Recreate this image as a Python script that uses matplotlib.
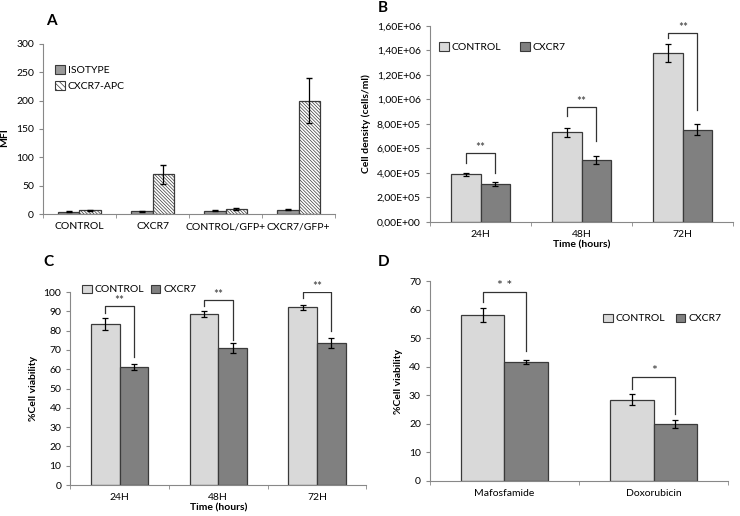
import matplotlib.pyplot as plt
import numpy as np
from matplotlib.patches import Patch
from matplotlib.ticker import FuncFormatter

plt.rcParams['font.family'] = ['Lato', 'DejaVu Sans']
plt.rcParams['hatch.linewidth'] = 0.5
plt.rcParams['hatch.color'] = '#333333'

# Panel A: MFI
a_groups = ['CONTROL', 'CXCR7', 'CONTROL/GFP+', 'CXCR7/GFP+']
a_isotype = [4, 5, 6, 8]
a_isotype_err = [0.8, 0.8, 1.0, 1.0]
a_apc = [7, 70, 9, 200]
a_apc_err = [1.0, 17, 1.0, 40]

# Panel B: cell density
b_groups = ['24H', '48H', '72H']
b_control = [3.9e5, 7.3e5, 1.38e6]
b_control_err = [0.12e5, 0.35e5, 0.75e5]
b_cxcr7 = [3.1e5, 5.05e5, 7.5e5]
b_cxcr7_err = [0.15e5, 0.35e5, 0.45e5]
# bracket: top, left leg end, right leg end
b_brackets = [(5.6e5, 4.8e5, 4.0e5), (9.35e5, 8.6e5, 6.6e5), (1.54e6, 1.5e6, 9.1e5)]
b_stars = ['**', '**', '**']

# Panel C: viability
c_groups = ['24H', '48H', '72H']
c_control = [83.5, 88.5, 92]
c_control_err = [3.0, 1.5, 1.5]
c_cxcr7 = [61, 71, 73.5]
c_cxcr7_err = [1.5, 2.5, 2.5]
c_brackets = [(92.6, 89, 66.5), (96, 92.6, 75.3), (99.8, 97, 79.6)]
c_stars = ['**', '**', '**']

# Panel D: drug viability
d_groups = ['Mafosfamide', 'Doxorubicin']
d_control = [58.2, 28.5]
d_control_err = [2.5, 2.0]
d_cxcr7 = [41.7, 20]
d_cxcr7_err = [0.6, 1.5]
d_brackets = [(66.2, 62.7, 45.7), (36.6, 32.3, 23.6)]
d_stars = ['* *', '*']

light = '#d9d9d9'
dark = '#808080'
edge = '#3a3a3a'
hatch = '\\' * 10
w = 0.29
fs = 7.5

fig = plt.figure(figsize=(7.4, 5.16), dpi=100)


def style_axes(ax, n):
    for s in ['top', 'right']:
        ax.spines[s].set_visible(False)
    for s in ['left', 'bottom']:
        ax.spines[s].set_color('#888888')
        ax.spines[s].set_linewidth(0.8)
    ax.set_xlim(-0.5, n - 0.5)
    ax.set_xticks(range(n))
    ax.set_xticks(np.arange(-0.5, n, 1.0), minor=True)
    ax.tick_params(axis='x', which='major', length=0, labelsize=fs, pad=6)
    ax.tick_params(axis='x', which='minor', length=3, color='#888888', direction='out')
    ax.tick_params(axis='y', length=3, color='#888888', labelsize=fs)


def pair_bars(ax, groups, ctrl, ctrl_err, cx, cx_err):
    x = np.arange(len(groups))
    ax.bar(x - w / 2, ctrl, w, color=light, edgecolor=edge, linewidth=0.9,
           yerr=ctrl_err, error_kw=dict(ecolor='black', elinewidth=0.9, capsize=2.5, capthick=0.9))
    ax.bar(x + w / 2, cx, w, color=dark, edgecolor=edge, linewidth=0.9,
           yerr=cx_err, error_kw=dict(ecolor='black', elinewidth=0.9, capsize=2.5, capthick=0.9))
    ax.set_xticklabels(groups)
    return x


def brackets(ax, x, br, stars, fsz=8.5):
    for xi, (top, l, r), st in zip(x, br, stars):
        ax.plot([xi - w / 2, xi - w / 2, xi + w / 2, xi + w / 2], [l, top, top, r],
                color='#333333', lw=0.9)
        ax.text(xi, top, st, ha='center', va='bottom', fontsize=fsz, color='#333333')


def legend_pair(ax, **kw):
    handles = [Patch(facecolor=light, edgecolor=edge, linewidth=0.8, label='CONTROL'),
               Patch(facecolor=dark, edgecolor=edge, linewidth=0.8, label='CXCR7')]
    ax.legend(handles=handles, frameon=False, fontsize=fs, handlelength=0.9,
              handleheight=0.9, handletextpad=0.3, **kw)


# A
axA = fig.add_axes([0.058, 0.585, 0.395, 0.330])
xa = np.arange(len(a_groups))
axA.bar(xa - w / 2, a_isotype, w, color='#9a9a9a', edgecolor=edge, linewidth=0.9,
        yerr=a_isotype_err, error_kw=dict(ecolor='black', elinewidth=0.9, capsize=2.5))
axA.bar(xa + w / 2, a_apc, w, color='white', edgecolor=edge, linewidth=0.9, hatch=hatch,
        yerr=a_apc_err, error_kw=dict(ecolor='black', elinewidth=0.9, capsize=2.5))
style_axes(axA, len(a_groups))
axA.set_xticklabels(a_groups)
axA.set_ylim(0, 300)
axA.set_yticks(range(0, 301, 50))
axA.set_ylabel('MFI', fontsize=fs, fontweight='bold')
axA.yaxis.set_label_coords(-0.115, 0.45)
axA.legend(handles=[Patch(facecolor='#9a9a9a', edgecolor=edge, linewidth=0.8, label='ISOTYPE'),
                    Patch(facecolor='white', edgecolor=edge, linewidth=0.8, hatch='\\' * 6, label='CXCR7-APC')],
           loc='upper left', bbox_to_anchor=(0.01, 0.93), frameon=False, fontsize=fs,
           handlelength=0.9, handleheight=0.9, handletextpad=0.3, labelspacing=0.6)
fig.text(0.062, 0.96, 'A', fontsize=11, fontweight='bold', va='center')

# B
axB = fig.add_axes([0.581, 0.570, 0.41, 0.380])
xb = pair_bars(axB, b_groups, b_control, b_control_err, b_cxcr7, b_cxcr7_err)
style_axes(axB, len(b_groups))
axB.set_ylim(0, 1.6e6)
axB.set_yticks(np.arange(0, 1.61e6, 2e5))
axB.yaxis.set_major_formatter(FuncFormatter(lambda v, p: ('%.2E' % v).replace('.', ',')))
brackets(axB, xb, b_brackets, b_stars)
axB.set_ylabel('Cell density (cells/ml)', fontsize=fs, fontweight='bold')
axB.set_xlabel('Time (hours)', fontsize=fs, fontweight='bold', labelpad=1)
legend_pair(axB, loc='upper left', bbox_to_anchor=(0.0, 0.965), ncol=2, columnspacing=1.8)
fig.text(0.511, 0.985, 'B', fontsize=11, fontweight='bold', va='center')

# C
axC = fig.add_axes([0.095, 0.060, 0.40, 0.374])
xc = pair_bars(axC, c_groups, c_control, c_control_err, c_cxcr7, c_cxcr7_err)
style_axes(axC, len(c_groups))
axC.set_ylim(0, 100)
axC.set_yticks(range(0, 101, 10))
brackets(axC, xc, c_brackets, c_stars)
axC.set_ylabel('%Cell viability', fontsize=fs, fontweight='bold')
axC.set_xlabel('Time (hours)', fontsize=fs, fontweight='bold', labelpad=1)
legend_pair(axC, loc='lower left', bbox_to_anchor=(0.02, 0.955), ncol=2, columnspacing=0.6,
            borderpad=0.1)
fig.text(0.058, 0.492, 'C', fontsize=11, fontweight='bold', va='center')

# D
axD = fig.add_axes([0.581, 0.068, 0.403, 0.387])
xd = pair_bars(axD, d_groups, d_control, d_control_err, d_cxcr7, d_cxcr7_err)
style_axes(axD, len(d_groups))
axD.set_ylim(0, 70)
axD.set_yticks(range(0, 71, 10))
brackets(axD, xd, d_brackets, d_stars, fsz=10)
axD.set_ylabel('%Cell viability', fontsize=fs, fontweight='bold')
legend_pair(axD, loc='upper left', bbox_to_anchor=(0.55, 0.885), ncol=2, columnspacing=1.0)
fig.text(0.511, 0.492, 'D', fontsize=11, fontweight='bold', va='center')

fig.savefig('out.png', dpi=100)
